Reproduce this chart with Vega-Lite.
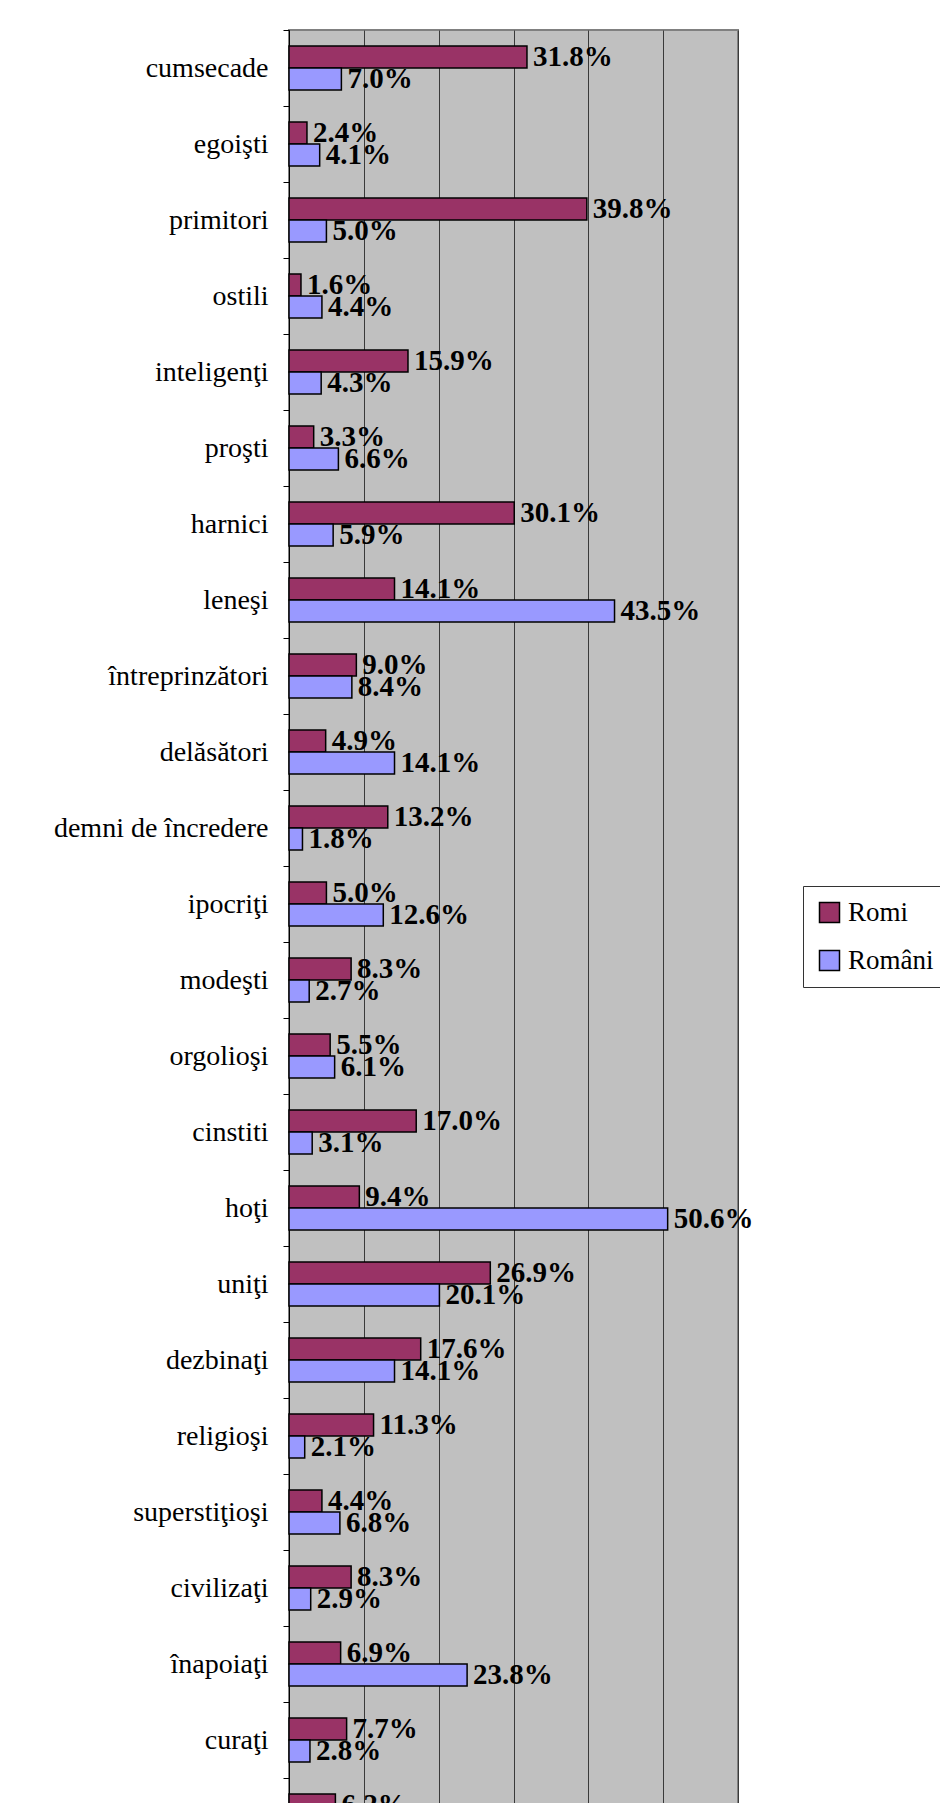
{
  "$schema": "https://vega.github.io/schema/vega-lite/v6.json",
  "autosize": "none",
  "padding": {"left": 289, "top": 30, "right": 202, "bottom": 0},
  "width": 449,
  "height": 1824,
  "background": "white",
  "data": {
    "values": [
      {"trait": "cumsecade", "group": "Romi", "value": 0.318},
      {"trait": "cumsecade", "group": "Români", "value": 0.070},
      {"trait": "egoişti", "group": "Romi", "value": 0.024},
      {"trait": "egoişti", "group": "Români", "value": 0.041},
      {"trait": "primitori", "group": "Romi", "value": 0.398},
      {"trait": "primitori", "group": "Români", "value": 0.050},
      {"trait": "ostili", "group": "Romi", "value": 0.016},
      {"trait": "ostili", "group": "Români", "value": 0.044},
      {"trait": "inteligenţi", "group": "Romi", "value": 0.159},
      {"trait": "inteligenţi", "group": "Români", "value": 0.043},
      {"trait": "proşti", "group": "Romi", "value": 0.033},
      {"trait": "proşti", "group": "Români", "value": 0.066},
      {"trait": "harnici", "group": "Romi", "value": 0.301},
      {"trait": "harnici", "group": "Români", "value": 0.059},
      {"trait": "leneşi", "group": "Romi", "value": 0.141},
      {"trait": "leneşi", "group": "Români", "value": 0.435},
      {"trait": "întreprinzători", "group": "Romi", "value": 0.090},
      {"trait": "întreprinzători", "group": "Români", "value": 0.084},
      {"trait": "delăsători", "group": "Romi", "value": 0.049},
      {"trait": "delăsători", "group": "Români", "value": 0.141},
      {"trait": "demni de încredere", "group": "Romi", "value": 0.132},
      {"trait": "demni de încredere", "group": "Români", "value": 0.018},
      {"trait": "ipocriţi", "group": "Romi", "value": 0.050},
      {"trait": "ipocriţi", "group": "Români", "value": 0.126},
      {"trait": "modeşti", "group": "Romi", "value": 0.083},
      {"trait": "modeşti", "group": "Români", "value": 0.027},
      {"trait": "orgolioşi", "group": "Romi", "value": 0.055},
      {"trait": "orgolioşi", "group": "Români", "value": 0.061},
      {"trait": "cinstiti", "group": "Romi", "value": 0.170},
      {"trait": "cinstiti", "group": "Români", "value": 0.031},
      {"trait": "hoţi", "group": "Romi", "value": 0.094},
      {"trait": "hoţi", "group": "Români", "value": 0.506},
      {"trait": "uniţi", "group": "Romi", "value": 0.269},
      {"trait": "uniţi", "group": "Români", "value": 0.201},
      {"trait": "dezbinaţi", "group": "Romi", "value": 0.176},
      {"trait": "dezbinaţi", "group": "Români", "value": 0.141},
      {"trait": "religioşi", "group": "Romi", "value": 0.113},
      {"trait": "religioşi", "group": "Români", "value": 0.021},
      {"trait": "superstiţioşi", "group": "Romi", "value": 0.044},
      {"trait": "superstiţioşi", "group": "Români", "value": 0.068},
      {"trait": "civilizaţi", "group": "Romi", "value": 0.083},
      {"trait": "civilizaţi", "group": "Români", "value": 0.029},
      {"trait": "înapoiaţi", "group": "Romi", "value": 0.069},
      {"trait": "înapoiaţi", "group": "Români", "value": 0.238},
      {"trait": "curaţi", "group": "Romi", "value": 0.077},
      {"trait": "curaţi", "group": "Români", "value": 0.028},
      {"trait": "murdari", "group": "Romi", "value": 0.062},
      {"trait": "murdari", "group": "Români", "value": 0.190}
    ]
  },
  "encoding": {
    "y": {
      "field": "trait",
      "type": "nominal",
      "sort": null,
      "scale": {"paddingInner": 0, "paddingOuter": 0},
      "axis": {
        "title": null,
        "tickBand": "extent",
        "domainColor": "black",
        "domainWidth": 1,
        "tickColor": "black",
        "tickSize": 6,
        "labelPadding": 15,
        "labelLimit": 0,
        "labelFont": "Liberation Serif",
        "labelFontSize": 28,
        "labelColor": "black",
        "grid": false
      }
    },
    "yOffset": {
      "field": "group",
      "type": "nominal",
      "scale": {"domain": ["Romi", "Români"], "paddingInner": 0, "paddingOuter": 0.727}
    },
    "x": {
      "field": "value",
      "type": "quantitative",
      "scale": {"domain": [0, 0.6], "nice": false, "zero": true},
      "axis": {
        "title": null,
        "values": [0, 0.1, 0.2, 0.3, 0.4, 0.5, 0.6],
        "grid": true,
        "gridColor": "#3a3a3a",
        "gridWidth": 1,
        "gridOpacity": 1,
        "domain": false,
        "ticks": false,
        "labels": false
      }
    }
  },
  "layer": [
    {
      "mark": {"type": "bar", "stroke": "black", "strokeWidth": 1.5},
      "encoding": {
        "color": {
          "field": "group",
          "type": "nominal",
          "scale": {"domain": ["Romi", "Români"], "range": ["#993366", "#9999FF"]},
          "legend": {
            "title": null,
            "orient": "none",
            "legendX": 514,
            "legendY": 856,
            "strokeColor": "#333333",
            "fillColor": "white",
            "padding": 13,
            "symbolType": "square",
            "symbolSize": 400,
            "symbolStrokeColor": "black",
            "symbolStrokeWidth": 1.5,
            "symbolOpacity": 1,
            "labelFont": "Liberation Serif",
            "labelFontSize": 27,
            "labelColor": "black",
            "labelOffset": 5,
            "rowPadding": 20
          }
        }
      }
    },
    {
      "mark": {
        "type": "text",
        "align": "left",
        "baseline": "middle",
        "dx": 6,
        "font": "Liberation Serif",
        "fontSize": 29,
        "fontWeight": "bold",
        "color": "black"
      },
      "encoding": {
        "text": {"field": "value", "type": "quantitative", "format": ".1%"}
      }
    }
  ],
  "config": {
    "view": {"fill": "#C0C0C0", "stroke": "#808080", "strokeWidth": 2}
  }
}
